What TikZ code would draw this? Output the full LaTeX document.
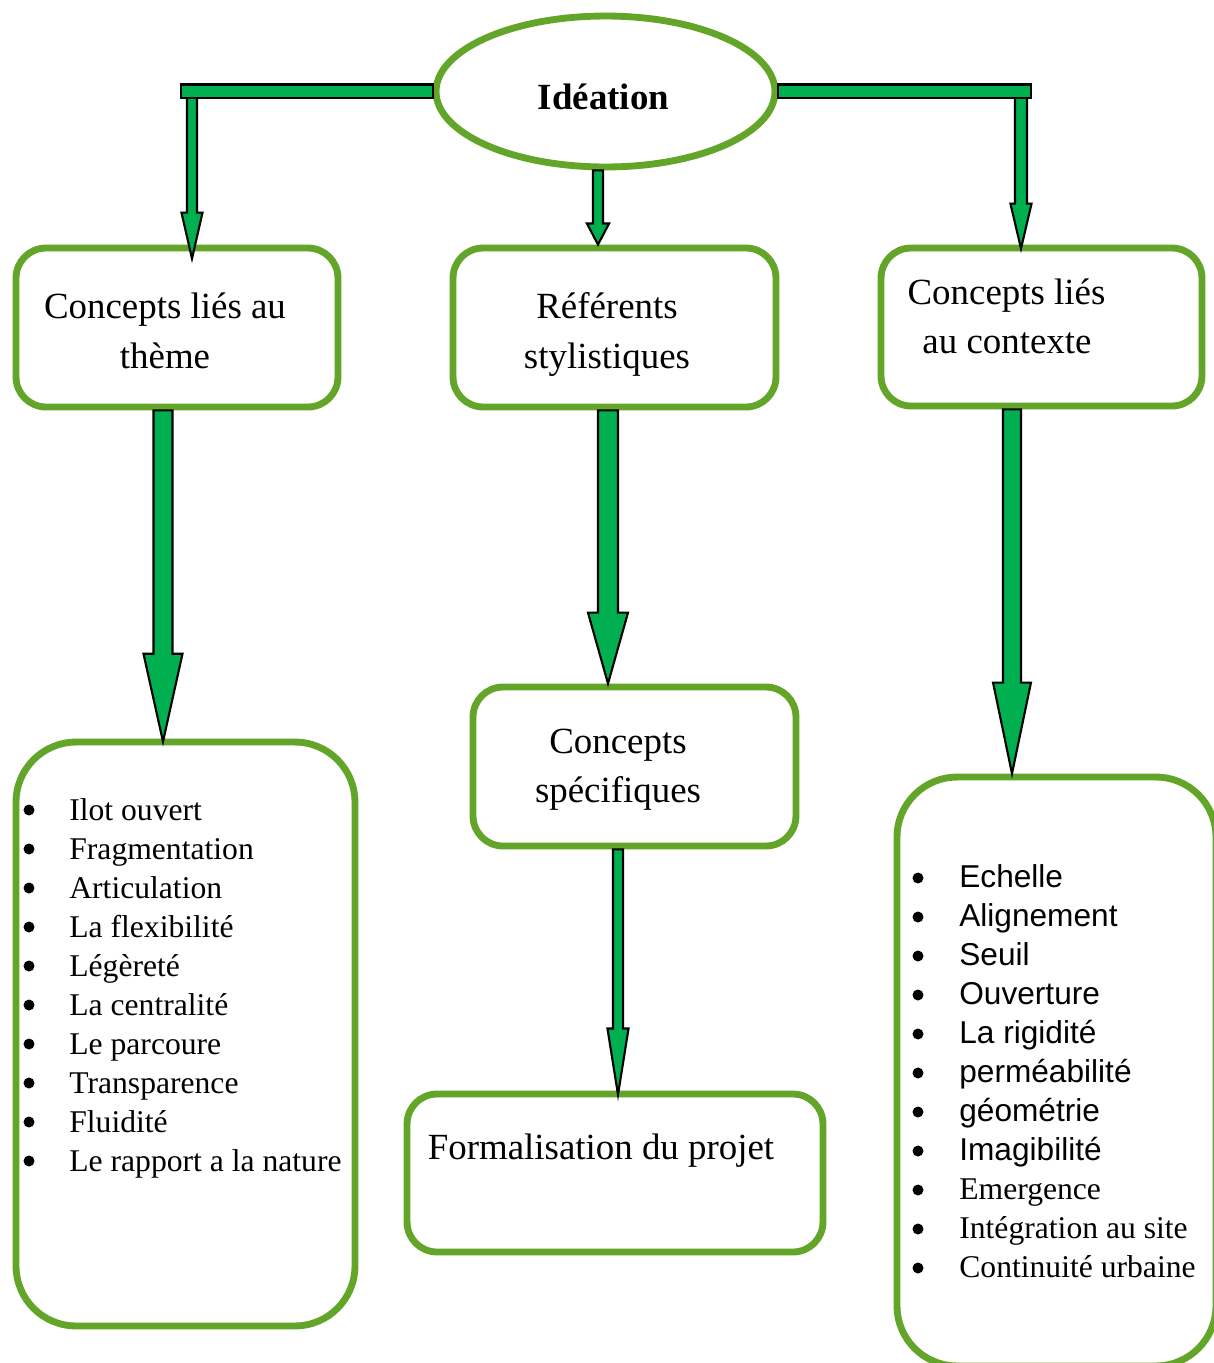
\documentclass[tikz,border=0pt]{standalone}
\usepackage{fontspec}
\setmainfont{Liberation Serif}
\newfontfamily\arialfont{Liberation Sans}
\usepackage{tikz}
\usetikzlibrary{shapes.geometric}
\usetikzlibrary{calc,positioning}
\definecolor{boxgreen}{RGB}{99,165,41}
\definecolor{arrowgreen}{RGB}{0,176,80}
\newcommand{\blockarrow}[5]{\draw[arrowfill] let \p1=(#1), \p2=(#2) in
	(\x1-#3,\y1) -- (\x1-#3,\y2+#5) -- (\x1-#4,\y2+#5) -- (\x1,\y2)
	-- (\x1+#4,\y2+#5) -- (\x1+#3,\y2+#5) -- (\x1+#3,\y1) -- cycle;}
\begin{document}
\begin{tikzpicture}[x=0.02cm, y=-0.02cm,
	box/.style={draw=boxgreen, line width=3.9pt, rounded corners=0.6cm, inner sep=0, fill=white},
	listbox/.style={box, rounded corners=1.2cm},
	oval/.style={draw=boxgreen, line width=3.9pt, ellipse, inner sep=0, fill=white},
	arrowfill/.style={draw=black, fill=arrowgreen, line width=1.2pt, line join=miter},
	txt/.style={font=\fontsize{21}{25}\selectfont, inner sep=0, anchor=base},
	item/.style={font=\fontsize{18}{22}\selectfont, inner sep=0, anchor=base west},
	sansitem/.style={item, font=\arialfont\fontsize{18}{22}\selectfont},
	dot/.style={circle, fill=black, inner sep=0, minimum size=0.22cm}]
\useasboundingbox (0,0) rectangle (1214,1363);
\node [oval, minimum width=6.78cm, minimum height=3.02cm] (id) at (605.5,91.5) {};
\node [box, minimum width=6.44cm, minimum height=3.18cm] (b1) at (177,327.5) {};
\node [box, minimum width=6.46cm, minimum height=3.18cm] (b2) at (614.5,327.5) {};
\node [box, minimum width=6.42cm, minimum height=3.16cm] (b3) at (1041.5,327) {};
\node [box, minimum width=6.46cm, minimum height=3.18cm] (b4) at (634.5,766.5) {};
\node [box, minimum width=8.32cm, minimum height=3.16cm] (b5) at (615,1173) {};
\node [listbox, minimum width=6.78cm, minimum height=11.68cm] (l1) at (185.5,1034) {};
\node [listbox, minimum width=6.38cm, minimum height=11.78cm] (l2) at (1056.5,1071.5) {};
\node [txt, font=\bfseries\fontsize{21}{25}\selectfont] (t0) at (603.5,109) {Idéation};
\node [txt] (t1a) at (165,318) {Concepts liés au};
\node [txt] (t1b) at (165,368) {thème};
\node [txt] (t2a) at (607,318) {Référents};
\node [txt] (t2b) at (607,368) {stylistiques};
\node [txt] (t3a) at (1006.5,304) {Concepts liés};
\node [txt] (t3b) at (1007,353) {au contexte};
\node [txt] (t4a) at (618,753) {Concepts};
\node [txt] (t4b) at (618,802) {spécifiques};
\node [txt] (t5) at (601,1159) {Formalisation du projet};
\foreach \lbl [count=\i] in {Ilot ouvert, Fragmentation, Articulation, La flexibilité, Légèreté, La centralité, Le parcoure, Transparence, Fluidité, Le rapport a la nature} {
	\node [item] (a\i) at (69,820+39*\i-39) {\lbl};
	\node [dot] (p\i) at (29,810+39*\i-39) {};
}
\foreach \lbl [count=\i] in {Echelle, Alignement, Seuil, Ouverture, La rigidité, perméabilité, géométrie, Imagibilité} {
	\node [sansitem] (c\i) at (959,887+39*\i-39) {\lbl};
	\node [dot] (q\i) at (918,878+39*\i-39) {};
}
\foreach \lbl [count=\i from 9] in {Emergence, Intégration au site, Continuité urbaine} {
	\node [item] (c\i) at (959,887+39*\i-39) {\lbl};
	\node [dot] (q\i) at (918,878+39*\i-39) {};
}
\coordinate (lj) at (192,91);
\coordinate (rj) at (1021,91);
\blockarrow{lj}{$(b1.north)+(0,14)$}{2.85pt}{6pt}{26.2pt}
\blockarrow{rj}{$(b3.north)+(0,4)$}{3.4pt}{6pt}{25.6pt}
\draw [arrowfill] ($(id.west)+(0,-7)$) rectangle ($(lj)+(-11,7)$);
\draw [arrowfill] ($(id.east)+(0,-7)$) rectangle ($(rj)+(10,7)$);
\blockarrow{$(id.south)+(-7.5,0)$}{b2.north}{2.85pt}{6.3pt}{12pt}
\blockarrow{$(b1.south)+(-14,0)$}{$(l1.north)+(0,3)$}{5.4pt}{11.1pt}{50pt}
\blockarrow{$(b2.south)+(-6.5,0)$}{b4.north}{5.7pt}{11.4pt}{40.4pt}
\blockarrow{$(b3.south)+(-29.5,0)$}{l2.north}{5.1pt}{10.8pt}{51.8pt}
\blockarrow{$(b4.south)+(-16.5,0)$}{$(b5.north)+(0,4)$}{2.85pt}{6pt}{37.6pt}
\end{tikzpicture}
\end{document}
